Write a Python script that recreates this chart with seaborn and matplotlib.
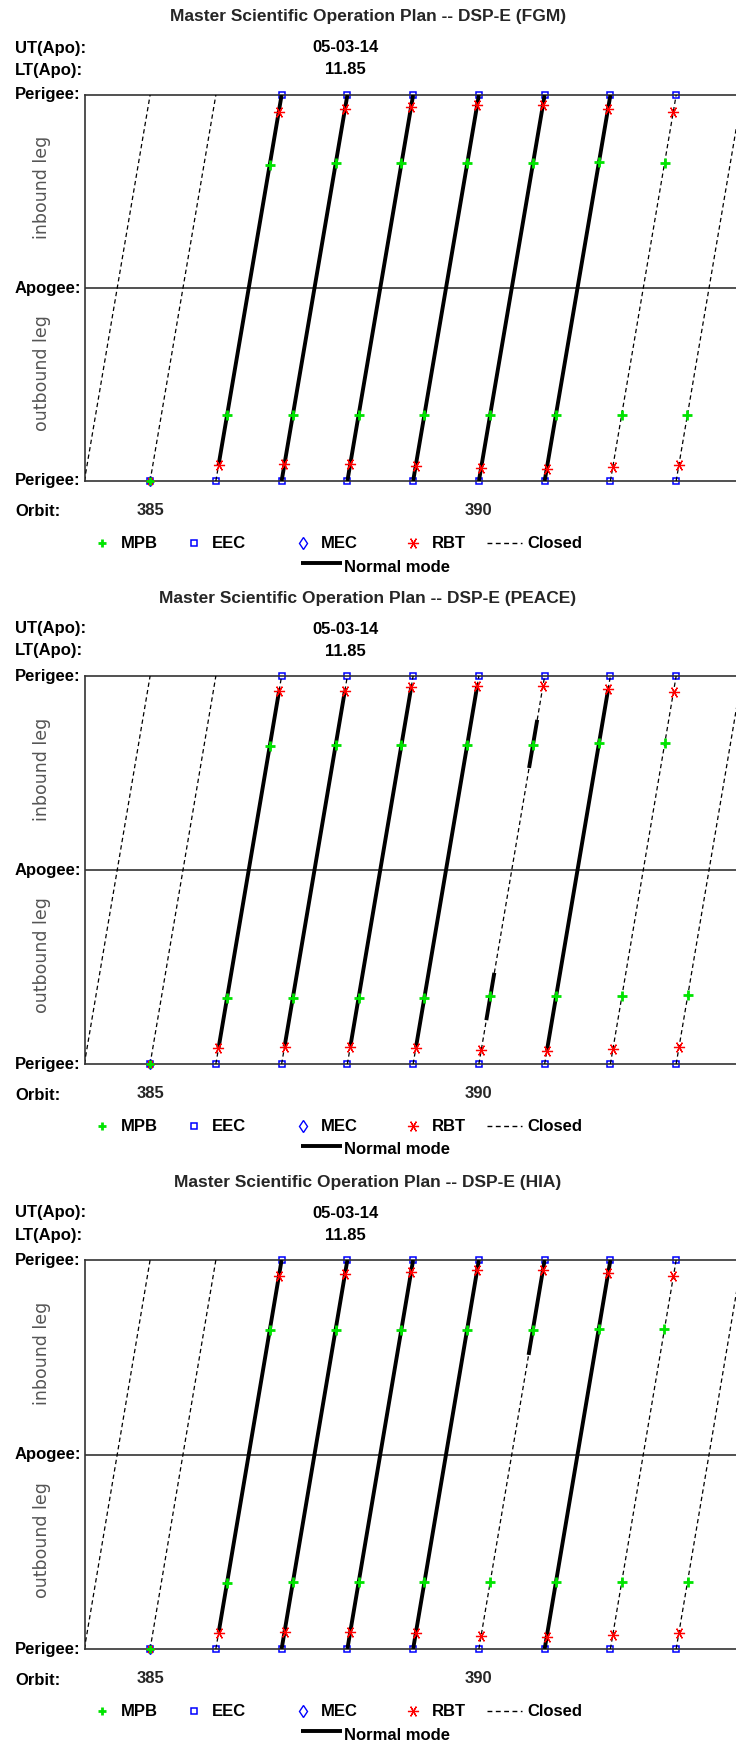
import numpy as np
import pandas as pd
import matplotlib
matplotlib.use("Agg")
import matplotlib.pyplot as plt
from matplotlib.lines import Line2D
import seaborn as sns

sns.set_theme(style="white")
plt.rcParams["font.family"] = ["Liberation Sans", "DejaVu Sans"]

# ---------------- data ----------------
ORBITS = [384, 385, 386, 387, 388, 389, 390, 391, 392, 393]
ORBIT_TICKS = [385, 390]
ORBIT_TICK_LABELS = ["385", "390"]
INSTRUMENTS = ["FGM", "PEACE", "HIA"]
UT_APO = "05-03-14"
LT_APO = "11.85"
UT_ORBIT_POS = 387.97

CLUSTER_ORBIT = 385                      # perigee with MPB/EEC/MEC/RBT together
EEC_OUT_ORBITS = [385, 386, 387, 388, 389, 390, 391, 392, 393]
EEC_IN_ORBITS = [386, 387, 388, 389, 390, 391, 392]
OUT_ORBITS = [386, 387, 388, 389, 390, 391, 392, 393]
IN_ORBITS = [386, 387, 388, 389, 390, 391, 392]

# orbit phase (0 = perigee start, 0.5 = apogee, 1 = perigee end)
FGM_RBT_OUT = [0.041, 0.043, 0.043, 0.040, 0.033, 0.030, 0.037, 0.041]
FGM_MPB_OUT = [0.171, 0.171, 0.171, 0.171, 0.172, 0.172, 0.172, 0.172]
FGM_MPB_IN = [0.819, 0.823, 0.823, 0.823, 0.823, 0.827, 0.825]
FGM_RBT_IN = [0.957, 0.963, 0.970, 0.974, 0.974, 0.963, 0.957]
FGM_NORMAL_ORBIT = [386, 387, 388, 389, 390, 391]
FGM_NORMAL_START = [0.041, 0.0, 0.0, 0.0, 0.0, 0.0]
FGM_NORMAL_END = [1.0, 1.0, 1.0, 1.0, 1.0, 1.0]

PEACE_RBT_OUT = [0.040, 0.045, 0.045, 0.042, 0.036, 0.034, 0.038, 0.043]
PEACE_MPB_OUT = [0.171, 0.171, 0.171, 0.171, 0.174, 0.175, 0.175, 0.177]
PEACE_MPB_IN = [0.820, 0.822, 0.823, 0.823, 0.823, 0.827, 0.827]
PEACE_RBT_IN = [0.962, 0.962, 0.972, 0.974, 0.974, 0.966, 0.960]
PEACE_NORMAL_ORBIT = [386, 387, 388, 389, 390, 390, 391]
PEACE_NORMAL_START = [0.040, 0.045, 0.045, 0.042, 0.113, 0.763, 0.034]
PEACE_NORMAL_END = [0.962, 0.962, 0.972, 0.974, 0.235, 0.887, 0.966]

HIA_RBT_OUT = [0.042, 0.044, 0.044, 0.040, 0.033, 0.031, 0.037, 0.042]
HIA_MPB_OUT = [0.170, 0.172, 0.172, 0.172, 0.172, 0.172, 0.172, 0.173]
HIA_MPB_IN = [0.820, 0.821, 0.821, 0.821, 0.821, 0.822, 0.822]
HIA_RBT_IN = [0.959, 0.964, 0.968, 0.974, 0.974, 0.966, 0.959]
HIA_NORMAL_ORBIT = [386, 387, 388, 389, 390, 391]
HIA_NORMAL_START = [0.042, 0.0, 0.0, 0.0, 0.756, 0.0]
HIA_NORMAL_END = [1.0, 1.0, 1.0, 1.0, 1.0, 1.0]

PANELS = {
    "FGM": (FGM_RBT_OUT, FGM_MPB_OUT, FGM_MPB_IN, FGM_RBT_IN,
            FGM_NORMAL_ORBIT, FGM_NORMAL_START, FGM_NORMAL_END),
    "PEACE": (PEACE_RBT_OUT, PEACE_MPB_OUT, PEACE_MPB_IN, PEACE_RBT_IN,
              PEACE_NORMAL_ORBIT, PEACE_NORMAL_START, PEACE_NORMAL_END),
    "HIA": (HIA_RBT_OUT, HIA_MPB_OUT, HIA_MPB_IN, HIA_RBT_IN,
            HIA_NORMAL_ORBIT, HIA_NORMAL_START, HIA_NORMAL_END),
}

# ---------------- layout ----------------
W, H, DPI = 736, 1744, 100
PANEL_TOP = [95, 676, 1260]
PANEL_BOTTOM = [481, 1064, 1649]
AX_LEFT = 85
XLIM = (384.01, 393.91)

LINE_COL = "#333333"
GREEN = "#00E400"
BLUE = "#0000FF"
RED = "#FF0000"
BOLD = dict(fontweight="bold", fontsize=12, color="black")

fig = plt.figure(figsize=(W / DPI, H / DPI), dpi=DPI)
fig.patch.set_facecolor("white")


def fx(x):
    return x / W


def fy(y):
    return 1 - y / H


def pos(orbit, phase):
    return orbit + phase, phase


STYLE = {
    "MPB": dict(marker="+", ms=7.5, mew=2.0, color=GREEN, ls="none", zorder=6),
    "EEC": dict(marker="s", ms=5, mew=1.1, mec=BLUE, mfc="none", ls="none", zorder=2),
    "MEC": dict(marker="d", ms=6.5, mew=1.0, mec=BLUE, mfc="none", ls="none", zorder=2),
    "RBT": dict(marker=(6, 2, 90), ms=8, mew=0.9, color=RED, ls="none", zorder=5),
}
CLUSTER_SCALE = 0.75

for i, inst in enumerate(INSTRUMENTS):
    rbt_out, mpb_out, mpb_in, rbt_in, n_orb, n_start, n_end = PANELS[inst]
    top, bot = PANEL_TOP[i], PANEL_BOTTOM[i]
    ax = fig.add_axes([fx(AX_LEFT), fy(bot), 1 - fx(AX_LEFT), (bot - top) / H])
    ax.set_facecolor("white")
    ax.set_xlim(*XLIM)
    ax.set_ylim(0, 1)

    # build segments
    rows_n, rows_c = [], []
    seg = 0
    for orb in ORBITS:
        ivs = sorted([(s, e) for o, s, e in zip(n_orb, n_start, n_end) if o == orb])
        cur = 0.0
        for s, e in ivs:
            if s > cur:
                for p in (cur, s):
                    x, y = pos(orb, p)
                    rows_c.append((seg, x, y))
                seg += 1
            for p in (s, e):
                x, y = pos(orb, p)
                rows_n.append((seg, x, y))
            seg += 1
            cur = e
        if cur < 1.0:
            for p in (cur, 1.0):
                x, y = pos(orb, p)
                rows_c.append((seg, x, y))
            seg += 1
    df_c = pd.DataFrame(rows_c, columns=["seg", "x", "y"])
    df_n = pd.DataFrame(rows_n, columns=["seg", "x", "y"])

    sns.lineplot(data=df_c, x="x", y="y", units="seg", estimator=None, sort=False,
                 color="black", linewidth=0.9, linestyle=(0, (3.5, 2.5)), ax=ax,
                 legend=False, zorder=3)
    sns.lineplot(data=df_n, x="x", y="y", units="seg", estimator=None, sort=False,
                 color="black", linewidth=2.8, ax=ax, legend=False, zorder=3,
                 solid_capstyle="butt")

    # markers
    ex = [pos(o, 0.0)[0] for o in EEC_OUT_ORBITS] + [pos(o, 1.0)[0] for o in EEC_IN_ORBITS]
    ey = [0.0] * len(EEC_OUT_ORBITS) + [1.0] * len(EEC_IN_ORBITS)
    ax.plot(ex, ey, clip_on=False, **STYLE["EEC"])
    rx = [o + p for o, p in zip(OUT_ORBITS, rbt_out)] + [o + p for o, p in zip(IN_ORBITS, rbt_in)]
    ry = list(rbt_out) + list(rbt_in)
    ax.plot(rx, ry, clip_on=False, **STYLE["RBT"])
    mx = [o + p for o, p in zip(OUT_ORBITS, mpb_out)] + [o + p for o, p in zip(IN_ORBITS, mpb_in)]
    my = list(mpb_out) + list(mpb_in)
    ax.plot(mx, my, clip_on=False, **STYLE["MPB"])
    # the coincident cluster at the first perigee (smaller marks)
    for key in ["MPB", "RBT", "MEC"]:
        st = dict(STYLE[key])
        st["ms"] = st["ms"] * CLUSTER_SCALE
        ax.plot([CLUSTER_ORBIT], [0.0], clip_on=False, **st)

    # frame
    for side in ["left", "top", "bottom"]:
        ax.spines[side].set_visible(True)
        ax.spines[side].set_color(LINE_COL)
        ax.spines[side].set_linewidth(1.2)
    ax.spines["right"].set_visible(False)
    ax.axhline(0.5, color=LINE_COL, lw=1.2, zorder=1)
    ax.set_yticks([])
    ax.set_xticks(ORBIT_TICKS)
    ax.set_xticklabels(ORBIT_TICK_LABELS, fontweight="bold", fontsize=12)
    ax.tick_params(axis="x", length=0, pad=16)
    ax.set_xlabel("")
    ax.set_ylabel("")

    # texts
    mid = (top + bot) / 2
    fig.text(fx(368), fy(top - 78), f"Master Scientific Operation Plan -- DSP-E ({inst})",
             ha="center", va="center", fontweight="bold", fontsize=12.5)
    fig.text(fx(15), fy(top - 47), "UT(Apo):", ha="left", va="center", **BOLD)
    fig.text(fx(15), fy(top - 25), "LT(Apo):", ha="left", va="center", **BOLD)
    xdisp = ax.transData.transform((UT_ORBIT_POS, 0))[0] / W
    fig.text(xdisp, fy(top - 47), UT_APO, ha="center", va="center", **BOLD)
    fig.text(xdisp, fy(top - 25), LT_APO, ha="center", va="center", **BOLD)
    fig.text(fx(15), fy(top), "Perigee:", ha="left", va="center", **BOLD)
    fig.text(fx(15), fy(mid), "Apogee:", ha="left", va="center", **BOLD)
    fig.text(fx(15), fy(bot), "Perigee:", ha="left", va="center", **BOLD)
    fig.text(fx(15), fy(bot + 31), "Orbit:", ha="left", va="center", **BOLD)
    fig.text(fx(42), fy(bot - 0.76 * (bot - top)), "inbound leg", rotation=90,
             ha="center", va="center", fontsize=12.5, color="#555555",
             family=["DejaVu Sans"])
    fig.text(fx(42), fy(bot - 0.28 * (bot - top)), "outbound leg", rotation=90,
             ha="center", va="center", fontsize=12.5, color="#555555",
             family=["DejaVu Sans"])

    # legend
    ly = bot + 62
    leg_mpb = dict(STYLE["MPB"]); leg_mpb["ms"] = 6
    fig.add_artist(Line2D([fx(102)], [fy(ly)], transform=fig.transFigure, **leg_mpb))
    fig.text(fx(121), fy(ly), "MPB", ha="left", va="center", **BOLD)
    fig.add_artist(Line2D([fx(194)], [fy(ly)], transform=fig.transFigure, **STYLE["EEC"]))
    fig.text(fx(212), fy(ly), "EEC", ha="left", va="center", **BOLD)
    fig.add_artist(Line2D([fx(303)], [fy(ly)], transform=fig.transFigure, **STYLE["MEC"]))
    fig.text(fx(321), fy(ly), "MEC", ha="left", va="center", **BOLD)
    fig.add_artist(Line2D([fx(413)], [fy(ly)], transform=fig.transFigure, **STYLE["RBT"]))
    fig.text(fx(432), fy(ly), "RBT", ha="left", va="center", **BOLD)
    fig.add_artist(Line2D([fx(487), fx(522)], [fy(ly), fy(ly)], transform=fig.transFigure,
                          color="black", lw=1.0, linestyle=(0, (3.5, 2.5))))
    fig.text(fx(527), fy(ly), "Closed", ha="left", va="center", **BOLD)
    ny = bot + 86
    fig.add_artist(Line2D([fx(301), fx(342)], [fy(ny - 4), fy(ny - 4)], transform=fig.transFigure,
                          color="black", lw=2.8, solid_capstyle="butt"))
    fig.text(fx(344), fy(ny), "Normal mode", ha="left", va="center", **BOLD)

fig.savefig("out.png", dpi=DPI, facecolor="white")
